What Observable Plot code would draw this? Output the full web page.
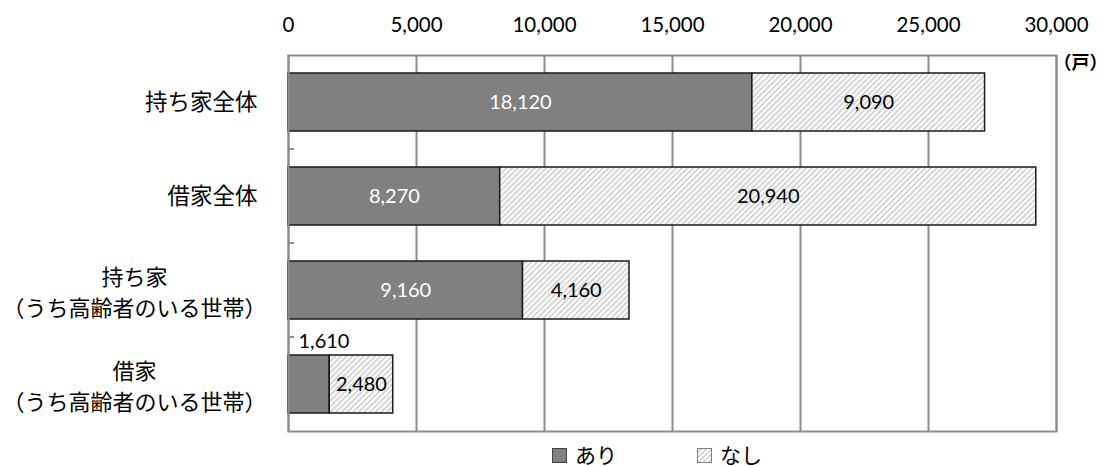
<!DOCTYPE html>
<html><head><meta charset="utf-8">
<script src="https://cdn.jsdelivr.net/npm/d3@7"></script>
<script src="https://cdn.jsdelivr.net/npm/@observablehq/plot@0.6"></script>
<style>
body{margin:0;background:#fff;font-family:Lato,"Noto Sans CJK JP",sans-serif;}
#chart svg{display:block;}
#legend{position:relative;height:22px;width:1109px;font-size:21px;line-height:22px;color:#000;}
#legend .item{position:absolute;top:0;display:flex;align-items:center;height:22px;}
#legend .sw{display:inline-block;width:15px;height:15px;margin-right:8px;box-sizing:border-box;}
</style></head><body><div id="chart"></div><div id="legend"></div>
<script>
const categories = ["持ち家全体", "借家全体", "持ち家\n（うち高齢者のいる世帯）", "借家\n（うち高齢者のいる世帯）"];
const seriesNames = ["あり", "なし"];
const ariValues = [18120, 8270, 9160, 1610];
const nashiValues = [9090, 20940, 4160, 2480];
const xTicks = [0, 5000, 10000, 15000, 20000, 25000, 30000];
const unitLabel = "（戸）";

const data = categories.flatMap((c, i) => [
  {category: c, series: seriesNames[0], value: ariValues[i]},
  {category: c, series: seriesNames[1], value: nashiValues[i]}
]);

const fontFamily = 'Lato, "Noto Sans CJK JP", sans-serif';
const fmt = d3.format(",");
const last = categories[categories.length - 1];
const multi = categories.filter(c => c.includes("\n"));
const single = categories.filter(c => !c.includes("\n"));
const gridColor = "#8c8c8c";

const plot = Plot.plot({
  width: 1109, height: 444,
  marginTop: 55, marginBottom: 13, marginLeft: 288, marginRight: 53,
  style: {fontFamily, fontSize: "20px", color: "#000", background: "#fff", overflow: "visible"},
  x: {domain: [0, 30000], axis: null},
  y: {domain: categories, paddingInner: 0.38, paddingOuter: 0.19, axis: null},
  color: {domain: seriesNames, range: ["#808080", "url(#hatch)"]},
  marks: [
    Plot.gridX(xTicks, {stroke: gridColor, strokeOpacity: 1, strokeWidth: 2}),
    Plot.barX(data, Plot.stackX({x: "value", y: "category", fill: "series", stroke: "#1a1a1a", strokeWidth: 1.5})),
    Plot.frame({stroke: gridColor, strokeWidth: 2}),
    (index, scales) => {
      const y = scales.y, x = scales.x;
      const bw = y.bandwidth ? y.bandwidth() : 0;
      const g = d3.create("svg:g");
      const x0 = x(0);
      for (let i = 0; i < categories.length - 1; i++) {
        const yb = (y(categories[i]) + bw + y(categories[i + 1])) / 2;
        g.append("line").attr("x1", x0).attr("x2", x0 + 6).attr("y1", yb).attr("y2", yb)
          .attr("stroke", gridColor).attr("stroke-width", 2);
      }
      return g.node();
    },
    Plot.axisX(xTicks, {anchor: "top", tickSize: 0, tickPadding: 24, tickFormat: fmt, fontSize: 20.5, label: null}),
    Plot.text(data, Plot.stackX({x: "value", y: "category",
      text: d => (d.series === seriesNames[0] && d.category !== last) ? fmt(d.value) : null,
      fill: "white", fontSize: 20})),
    Plot.text(data, Plot.stackX({x: "value", y: "category",
      text: d => d.series === seriesNames[1] ? fmt(d.value) : null,
      fill: "black", fontSize: 20})),
    Plot.text(data.filter(d => d.category === last && d.series === seriesNames[0]),
      Plot.stackX1({x: "value", y: "category", text: d => fmt(d.value), textAnchor: "start", dx: 10, dy: -43, fontSize: 20, fill: "black"})),
    Plot.text(single, {y: d => d, text: d => d, frameAnchor: "left", textAnchor: "end", dx: -31, fontSize: 22.5, fill: "black"}),
    Plot.text(multi, {y: d => d, text: d => d, frameAnchor: "left", textAnchor: "end", dx: -22, lineHeight: 1.42, fontSize: 22, fill: "black"}),
    Plot.text([unitLabel], {frameAnchor: "top-right", text: d => d, textAnchor: "start", dx: -3, dy: 1, fontSize: 18, fontWeight: "bold", fill: "black"})
  ]
});

const defs = d3.select(plot).insert("defs", ":first-child");
const P = 4;
const pat = defs.append("pattern").attr("id", "hatch").attr("patternUnits", "userSpaceOnUse")
  .attr("width", P).attr("height", P).attr("patternTransform", "rotate(45)");
pat.append("rect").attr("width", P).attr("height", P).attr("fill", "white");
pat.append("line").attr("x1", 1).attr("y1", 0).attr("x2", 1).attr("y2", P).attr("stroke", "#d2d2d2").attr("stroke-width", 1.8);

document.getElementById("chart").appendChild(plot);

// center the lines of each multi-line category label within its right-aligned block
plot.querySelectorAll("text").forEach(function(txt) {
  const tspans = Array.from(txt.querySelectorAll("tspan"));
  if (tspans.length < 2) return;
  const widths = tspans.map(t => t.getComputedTextLength());
  const maxW = d3.max(widths);
  const base = tspans.map(t => +(t.getAttribute("x") || 0));
  tspans.forEach((t, i) => t.setAttribute("x", base[i] - (maxW - widths[i]) / 2));
});

const legend = d3.select("#legend");
const lpos = [552, 697];
const hatchCss = "repeating-linear-gradient(135deg, #fff 0 2px, #cfcfcf 2px 3.5px)";
seriesNames.forEach((s, i) => {
  const it = legend.append("div").attr("class", "item").style("left", lpos[i] + "px");
  it.append("span").attr("class", "sw")
    .style("background", i === 0 ? "#808080" : hatchCss)
    .style("border", i === 0 ? "1px solid #404040" : "1px solid #808080");
  it.append("span").text(s);
});
</script>
</body></html>
